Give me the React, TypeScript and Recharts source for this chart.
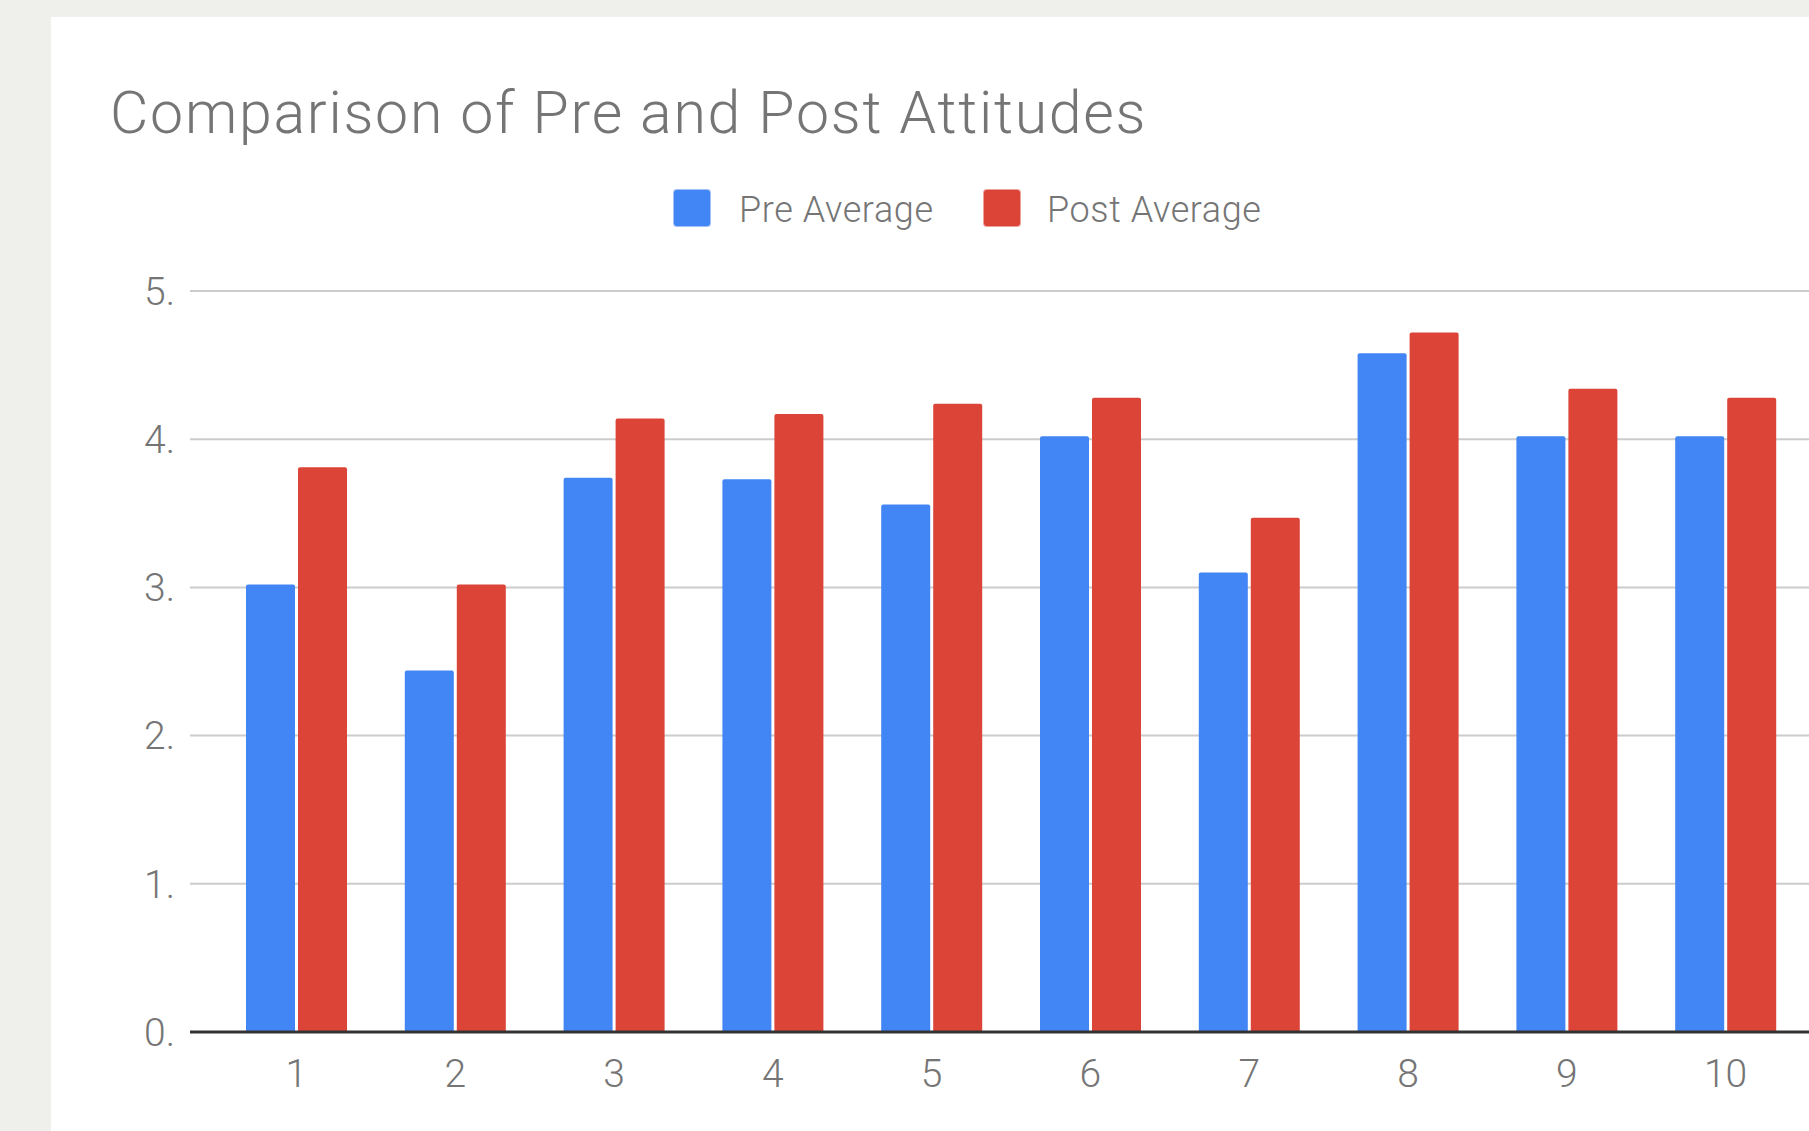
import { BarChart, Bar, XAxis, YAxis, CartesianGrid, Legend } from 'recharts'

const CATEGORIES = ['1', '2', '3', '4', '5', '6', '7', '8', '9', '10']
const PRE_AVERAGE = [3.02, 2.44, 3.74, 3.73, 3.56, 4.02, 3.1, 4.58, 4.02, 4.02]
const POST_AVERAGE = [3.81, 3.02, 4.14, 4.17, 4.24, 4.28, 3.47, 4.72, 4.34, 4.28]
const Y_TICKS = [0, 1, 2, 3, 4, 5]

const BLUE = '#4285f4'
const RED = '#db4437'
const TEXT = '#757575'
const FONT = 'Roboto, "Noto Sans", sans-serif'

const rows = CATEGORIES.map((c, i) => ({
  name: c,
  pre: PRE_AVERAGE[i],
  post: POST_AVERAGE[i],
}))

function YTick(props: any) {
  const { x, y, payload } = props
  return (
    <text x={x} y={y} dy="0.355em" textAnchor="end" fill={TEXT} fontSize={39} fontWeight={300} fontFamily={FONT}>
      {`${payload.value}.`}
    </text>
  )
}

function XTick(props: any) {
  const { x, y, payload } = props
  return (
    <text x={x} y={y} dy="0.71em" textAnchor="middle" fill={TEXT} fontSize={39} fontWeight={300} fontFamily={FONT}>
      {payload.value}
    </text>
  )
}

function LegendContent() {
  const items = [
    { label: 'Pre Average', color: BLUE, box: 674, text: 739 },
    { label: 'Post Average', color: RED, box: 984, text: 1047 },
  ]
  return (
    <div style={{ position: 'relative', height: 0 }}>
      <svg width={1809} height={300} style={{ position: 'absolute', left: 0, top: 0, overflow: 'visible' }}>
        {items.map((it) => (
          <g key={it.label}>
            <rect x={it.box} y={190} width={36} height={36} rx={3} fill={it.color} stroke={it.color} strokeOpacity={0.5} strokeWidth={2} />
            <text x={it.text} y={222} fill={TEXT} fontSize={36} fontWeight={300} letterSpacing={0.6} fontFamily={FONT}>
              {it.label}
            </text>
          </g>
        ))}
      </svg>
    </div>
  )
}

export default function App() {
  return (
    <div style={{ position: 'fixed', left: 0, top: 0, width: 1809, height: 1131, background: '#efefeb', overflow: 'hidden' }}>
      <div style={{ position: 'absolute', left: 51, top: 17, width: 1758, height: 1114, background: '#ffffff' }} />
      <svg width={1809} height={160} style={{ position: 'absolute', left: 0, top: 0 }}>
        <text x={110} y={133} fill={TEXT} fontSize={59} fontWeight={300} letterSpacing={1.75} fontFamily={FONT}>
          Comparison of Pre and Post Attitudes
        </text>
      </svg>
      <div style={{ position: 'absolute', left: 0, top: 0 }}>
        <BarChart
          width={1809}
          height={1131}
          data={rows}
          margin={{ top: 291, right: 0, bottom: 0, left: 0 }}
          barGap={3}
          barSize={49}
        >
          <CartesianGrid vertical={false} stroke="#cccccc" strokeWidth={2} />
          <XAxis
            dataKey="name"
            height={99}
            padding={{ left: 27, right: 4 }}
            tickLine={false}
            tickSize={0}
            tickMargin={27}
            axisLine={{ stroke: '#333333', strokeWidth: 3 }}
            tick={<XTick />}
            interval={0}
          />
          <YAxis
            width={190}
            domain={[0, 5]}
            ticks={Y_TICKS}
            tickLine={false}
            axisLine={false}
            tickSize={0}
            tickMargin={15}
            tick={<YTick />}
          />
          <Legend verticalAlign="top" content={<LegendContent />} wrapperStyle={{ left: 0, top: 0, width: 1809, height: 0 }} />
          <Bar dataKey="pre" name="Pre Average" fill={BLUE} radius={[2, 2, 0, 0]} isAnimationActive={false} />
          <Bar dataKey="post" name="Post Average" fill={RED} radius={[2, 2, 0, 0]} isAnimationActive={false} />
        </BarChart>
      </div>
    </div>
  )
}
